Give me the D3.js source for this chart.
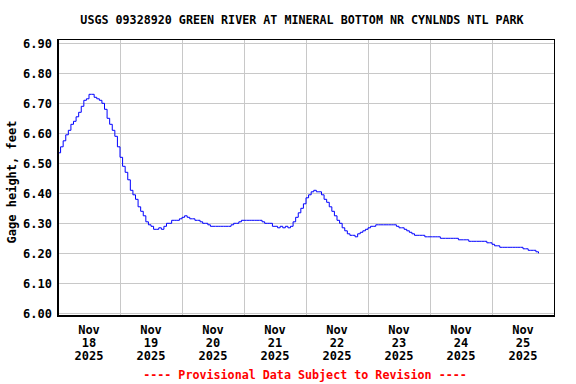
<!DOCTYPE html>
<html>
<head>
<meta charset="utf-8">
<script src="https://cdn.jsdelivr.net/npm/d3@7"></script>
<style>
  body { margin: 0; background: #fff; }
  svg { display: block; font-family: "DejaVu Sans Mono", monospace; font-weight: bold; }
</style>
</head>
<body>
<div id="chart"></div>
<script>
// hourly gage height readings from Nov 18 2025 00:00
const startDate = new Date(2025, 10, 18, 0, 0);
const heights = [
  6.535, 6.555, 6.575, 6.595, 6.61, 6.63, 6.64, 6.655, 6.67, 6.69, 6.71, 6.715,
  6.73, 6.73, 6.72, 6.715, 6.71, 6.70, 6.68, 6.65, 6.63, 6.61, 6.59, 6.555,
  6.52, 6.49, 6.47, 6.445, 6.41, 6.395, 6.38, 6.355, 6.34, 6.325, 6.305, 6.295,
  6.29, 6.28, 6.28, 6.285, 6.28, 6.29, 6.30, 6.30, 6.31, 6.31, 6.31, 6.315,
  6.32, 6.325, 6.32, 6.315, 6.315, 6.31, 6.31, 6.305, 6.30, 6.30, 6.295, 6.29,
  6.29, 6.29, 6.29, 6.29, 6.29, 6.29, 6.29, 6.295, 6.30, 6.30, 6.305, 6.31,
  6.31, 6.31, 6.31, 6.31, 6.31, 6.31, 6.31, 6.305, 6.30, 6.30, 6.30, 6.29,
  6.29, 6.285, 6.29, 6.285, 6.29, 6.285, 6.29, 6.305, 6.32, 6.335, 6.35, 6.365,
  6.385, 6.395, 6.405, 6.41, 6.405, 6.405, 6.395, 6.38, 6.37, 6.355, 6.34, 6.325,
  6.31, 6.30, 6.285, 6.275, 6.265, 6.26, 6.26, 6.255, 6.265, 6.27, 6.275, 6.28,
  6.285, 6.29, 6.29, 6.295, 6.295, 6.295, 6.295, 6.295, 6.295, 6.295, 6.295, 6.29,
  6.285, 6.285, 6.28, 6.275, 6.27, 6.265, 6.26, 6.26, 6.26, 6.26, 6.255, 6.255,
  6.255, 6.255, 6.255, 6.255, 6.25, 6.25, 6.25, 6.25, 6.25, 6.25, 6.25, 6.245,
  6.245, 6.245, 6.245, 6.24, 6.24, 6.24, 6.24, 6.24, 6.24, 6.24, 6.235, 6.235,
  6.23, 6.225, 6.225, 6.22, 6.22, 6.22, 6.22, 6.22, 6.22, 6.22, 6.22, 6.22,
  6.215, 6.215, 6.21, 6.21, 6.21, 6.205, 6.20
];
const yTicks = [6.0, 6.1, 6.2, 6.3, 6.4, 6.5, 6.6, 6.7, 6.8, 6.9];
const dayLabels = [
  ['Nov', '18', '2025'], ['Nov', '19', '2025'], ['Nov', '20', '2025'], ['Nov', '21', '2025'],
  ['Nov', '22', '2025'], ['Nov', '23', '2025'], ['Nov', '24', '2025'], ['Nov', '25', '2025']
];
const title = 'USGS 09328920 GREEN RIVER AT MINERAL BOTTOM NR CYNLNDS NTL PARK';
const yTitle = 'Gage height, feet';
const footer = '---- Provisional Data Subject to Revision ----';

const width = 576;
const height = 384;
const plot = { left: 58, right: 554, top: 40, bottom: 316 };

const data = heights.map((v, i) => ({ date: d3.timeHour.offset(startDate, i), value: v }));
const days = dayLabels.map((d, i) => d3.timeDay.offset(startDate, i));

const x = d3.scaleTime()
  .domain([startDate, d3.timeDay.offset(startDate, dayLabels.length)])
  .range([plot.left, plot.right]);

const y = d3.scaleLinear()
  .domain([5.991, 6.911])
  .range([plot.bottom, plot.top]);

const px = (v) => Math.round(v) + 0.5; // crisp 1px lines

const svg = d3.select('#chart').append('svg')
  .attr('width', width)
  .attr('height', height);

// gridlines
svg.append('g')
  .selectAll('line')
  .data(yTicks)
  .join('line')
  .attr('x1', plot.left)
  .attr('x2', plot.right)
  .attr('y1', (d) => px(y(d)))
  .attr('y2', (d) => px(y(d)))
  .attr('stroke', '#c8c8c8');

svg.append('g')
  .selectAll('line')
  .data(days.slice(1))
  .join('line')
  .attr('x1', (d) => px(x(d)))
  .attr('x2', (d) => px(x(d)))
  .attr('y1', plot.top)
  .attr('y2', plot.bottom)
  .attr('stroke', '#c8c8c8');

// series
const line = d3.line()
  .x((d) => x(d.date))
  .y((d) => y(d.value))
  .curve(d3.curveStepAfter);

svg.append('path')
  .datum(data)
  .attr('fill', 'none')
  .attr('stroke', '#0000ff')
  .attr('stroke-width', 1)
  .attr('d', line);

// frame: thin top/right, heavier left/bottom
svg.append('rect')
  .attr('x', plot.left + 0.5)
  .attr('y', plot.top - 0.5)
  .attr('width', plot.right - plot.left)
  .attr('height', plot.bottom - plot.top)
  .attr('fill', 'none')
  .attr('stroke', '#000');

svg.append('path')
  .attr('d', `M${plot.left},${plot.top - 1}V${plot.bottom}H${plot.right + 1}`)
  .attr('fill', 'none')
  .attr('stroke', '#000')
  .attr('stroke-width', 2);

// y tick labels
svg.append('g')
  .selectAll('text')
  .data(yTicks)
  .join('text')
  .attr('x', 52)
  .attr('y', (d) => y(d))
  .attr('dy', '0.36em')
  .attr('text-anchor', 'end')
  .attr('font-size', 12)
  .text((d) => d3.format('.2f')(d));

// x tick labels, centred on each day
const xl = svg.append('g')
  .selectAll('text')
  .data(dayLabels)
  .join('text')
  .attr('text-anchor', 'middle')
  .attr('font-size', 12)
  .attr('transform', (d, i) => `translate(${x(d3.timeHour.offset(days[i], 12))},334)`);

xl.selectAll('tspan')
  .data((d) => d)
  .join('tspan')
  .attr('x', 0)
  .attr('y', (d, i) => i * 13)
  .text((d) => d);

// titles
svg.append('text')
  .attr('x', 302)
  .attr('y', 24)
  .attr('text-anchor', 'middle')
  .attr('font-size', 11.7)
  .text(title);

svg.append('text')
  .attr('transform', `translate(16,${(plot.top + plot.bottom) / 2 + 4}) rotate(-90)`)
  .attr('text-anchor', 'middle')
  .attr('font-size', 12)
  .text(yTitle);

svg.append('text')
  .attr('x', 305)
  .attr('y', 379)
  .attr('text-anchor', 'middle')
  .attr('font-size', 11.7)
  .attr('fill', '#ff0000')
  .text(footer);
</script>
</body>
</html>
